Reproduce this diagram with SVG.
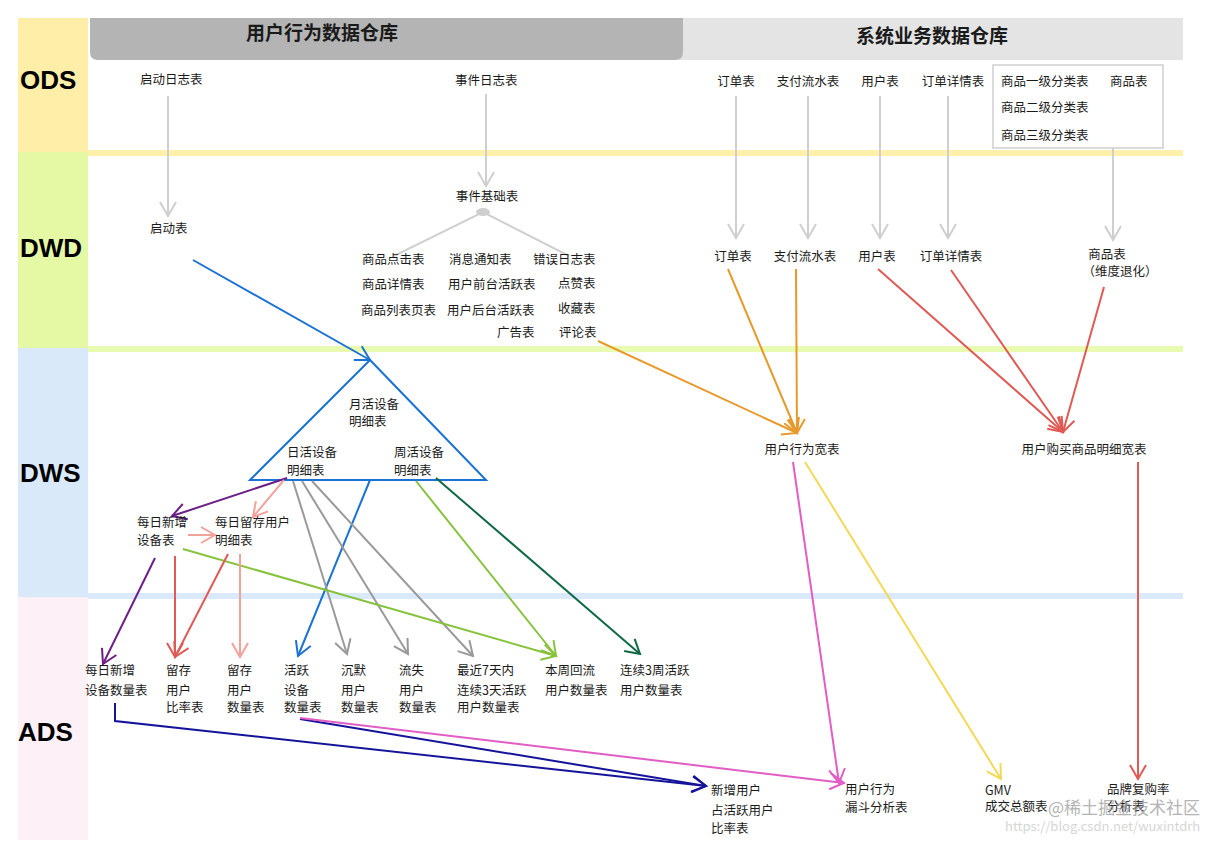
<svg xmlns="http://www.w3.org/2000/svg" width="1229" height="843" viewBox="0 0 1229 843">
<style>
.t{font-family:"Noto Sans CJK SC","Noto Sans",sans-serif;font-size:12.5px;fill:#1a1a1a}
.h{font-family:"Noto Sans CJK SC","Noto Sans",sans-serif;font-size:19px;font-weight:bold;fill:#1a1a1a}
.L{font-family:"Liberation Sans",Arial,sans-serif;font-size:26px;font-weight:bold;fill:#000}
.c{fill:none;stroke-width:2}
.gray{stroke:#cfcfcf}
.blue{stroke:#1a72d4}
.purple{stroke:#6c1f86}
.pink{stroke:#f2a19b}
.red{stroke:#e05a55}
.dgray{stroke:#9a9a9a}
.lgreen{stroke:#86c23c}
.dgreen{stroke:#0f6a43}
.navy{stroke:#15139a}
.mag{stroke:#e25dc4}
.yel{stroke:#f2d95a}
.orange{stroke:#e79a2c}
.wm{font-family:"Noto Sans CJK SC","Noto Sans",sans-serif;fill:#9a9a9a}
</style>
<defs>
<marker id="m-gray" markerUnits="userSpaceOnUse" markerWidth="18" markerHeight="18" viewBox="0 0 18 18" refX="16" refY="9" orient="auto"><path d="M2,1 L16,9 L2,17" fill="none" stroke="#cfcfcf" stroke-width="2"/></marker>
<marker id="m-blue" markerUnits="userSpaceOnUse" markerWidth="18" markerHeight="18" viewBox="0 0 18 18" refX="16" refY="9" orient="auto"><path d="M2,1 L16,9 L2,17" fill="none" stroke="#1a72d4" stroke-width="2"/></marker>
<marker id="m-purple" markerUnits="userSpaceOnUse" markerWidth="18" markerHeight="18" viewBox="0 0 18 18" refX="16" refY="9" orient="auto"><path d="M2,1 L16,9 L2,17" fill="none" stroke="#6c1f86" stroke-width="2"/></marker>
<marker id="m-pink" markerUnits="userSpaceOnUse" markerWidth="18" markerHeight="18" viewBox="0 0 18 18" refX="16" refY="9" orient="auto"><path d="M2,1 L16,9 L2,17" fill="none" stroke="#f2a19b" stroke-width="2"/></marker>
<marker id="m-red" markerUnits="userSpaceOnUse" markerWidth="18" markerHeight="18" viewBox="0 0 18 18" refX="16" refY="9" orient="auto"><path d="M2,1 L16,9 L2,17" fill="none" stroke="#e05a55" stroke-width="2"/></marker>
<marker id="m-dgray" markerUnits="userSpaceOnUse" markerWidth="18" markerHeight="18" viewBox="0 0 18 18" refX="16" refY="9" orient="auto"><path d="M2,1 L16,9 L2,17" fill="none" stroke="#9a9a9a" stroke-width="2"/></marker>
<marker id="m-lgreen" markerUnits="userSpaceOnUse" markerWidth="18" markerHeight="18" viewBox="0 0 18 18" refX="16" refY="9" orient="auto"><path d="M2,1 L16,9 L2,17" fill="none" stroke="#86c23c" stroke-width="2"/></marker>
<marker id="m-dgreen" markerUnits="userSpaceOnUse" markerWidth="18" markerHeight="18" viewBox="0 0 18 18" refX="16" refY="9" orient="auto"><path d="M2,1 L16,9 L2,17" fill="none" stroke="#0f6a43" stroke-width="2"/></marker>
<marker id="m-navy" markerUnits="userSpaceOnUse" markerWidth="18" markerHeight="18" viewBox="0 0 18 18" refX="16" refY="9" orient="auto"><path d="M2,1 L16,9 L2,17" fill="none" stroke="#15139a" stroke-width="2"/></marker>
<marker id="m-mag" markerUnits="userSpaceOnUse" markerWidth="18" markerHeight="18" viewBox="0 0 18 18" refX="16" refY="9" orient="auto"><path d="M2,1 L16,9 L2,17" fill="none" stroke="#e25dc4" stroke-width="2"/></marker>
<marker id="m-yel" markerUnits="userSpaceOnUse" markerWidth="18" markerHeight="18" viewBox="0 0 18 18" refX="16" refY="9" orient="auto"><path d="M2,1 L16,9 L2,17" fill="none" stroke="#f2d95a" stroke-width="2"/></marker>
<marker id="m-orange" markerUnits="userSpaceOnUse" markerWidth="18" markerHeight="18" viewBox="0 0 18 18" refX="16" refY="9" orient="auto"><path d="M2,1 L16,9 L2,17" fill="none" stroke="#e79a2c" stroke-width="2"/></marker>
</defs>
<rect width="1229" height="843" fill="#fff"/>

<g id="layers">
<rect x="18" y="18" width="70" height="134" fill="#ffeea8"/>
<rect x="18" y="152" width="70" height="196" fill="#e5f9a5"/>
<rect x="18" y="348" width="70" height="249" fill="#d9e9fa"/>
<rect x="18" y="597" width="70" height="243" fill="#fdf1f7"/>
<rect x="88" y="150" width="1095" height="6" fill="#fff0aa"/>
<rect x="88" y="346" width="1095" height="6" fill="#e8fbb0"/>
<rect x="88" y="593" width="1095" height="6" fill="#dbeafb"/>
<text class="L" x="20" y="89">ODS</text>
<text class="L" x="20" y="257">DWD</text>
<text class="L" x="20" y="482">DWS</text>
<text class="L" x="18" y="741">ADS</text>
</g>

<g id="header">
<rect x="676" y="18" width="507" height="42" fill="#e4e4e4"/>
<path d="M90,18 H683 V52 Q683,60 675,60 H98 Q90,60 90,52 Z" fill="#b4b4b4"/>
<text class="h" x="322" y="40" text-anchor="middle">用户行为数据仓库</text>
<text class="h" x="932" y="43" text-anchor="middle">系统业务数据仓库</text>
</g>

<g id="connectors">
<line class="c gray" x1="168" y1="96" x2="168" y2="216" marker-end="url(#m-gray)"/>
<line class="c gray" x1="486" y1="94" x2="486" y2="186" marker-end="url(#m-gray)"/>
<line class="c gray" x1="736" y1="96" x2="736" y2="238" marker-end="url(#m-gray)"/>
<line class="c gray" x1="808" y1="96" x2="808" y2="238" marker-end="url(#m-gray)"/>
<line class="c gray" x1="880" y1="96" x2="880" y2="238" marker-end="url(#m-gray)"/>
<line class="c gray" x1="948" y1="96" x2="948" y2="238" marker-end="url(#m-gray)"/>
<line class="c gray" x1="1113" y1="148" x2="1113" y2="240" marker-end="url(#m-gray)"/>
<ellipse cx="483" cy="212" rx="7" ry="4" fill="#cfcfcf"/>
<polyline class="c gray" points="394,256 483,212 569,256"/>
<line class="c blue" x1="193" y1="260" x2="370" y2="360" marker-end="url(#m-blue)"/>
<line class="c orange" x1="598" y1="341" x2="797" y2="433" marker-end="url(#m-orange)"/>
<line class="c orange" x1="728" y1="269" x2="797" y2="433" marker-end="url(#m-orange)"/>
<line class="c orange" x1="796" y1="269" x2="797" y2="433" marker-end="url(#m-orange)"/>
<line class="c red" x1="878" y1="269" x2="1063" y2="432" marker-end="url(#m-red)"/>
<line class="c red" x1="951" y1="270" x2="1063" y2="432" marker-end="url(#m-red)"/>
<line class="c red" x1="1104" y1="287" x2="1063" y2="432" marker-end="url(#m-red)"/>
<path d="M370,360 L250,480 L486,480 Z" fill="none" stroke="#1a72d4" stroke-width="2"/>
<line class="c purple" x1="287" y1="478" x2="172" y2="516" marker-end="url(#m-purple)"/>
<line class="c pink" x1="284" y1="480" x2="253" y2="517" marker-end="url(#m-pink)"/>
<line class="c pink" x1="188" y1="535" x2="215" y2="535" marker-end="url(#m-pink)"/>
<line class="c blue" x1="370" y1="480" x2="298" y2="656" marker-end="url(#m-blue)"/>
<line class="c dgray" x1="293" y1="481" x2="347" y2="654" marker-end="url(#m-dgray)"/>
<line class="c dgray" x1="302" y1="481" x2="408" y2="654" marker-end="url(#m-dgray)"/>
<line class="c dgray" x1="312" y1="481" x2="473" y2="656" marker-end="url(#m-dgray)"/>
<line class="c lgreen" x1="416" y1="481" x2="556" y2="656" marker-end="url(#m-lgreen)"/>
<line class="c lgreen" x1="183" y1="549" x2="556" y2="656" marker-end="url(#m-lgreen)"/>
<line class="c dgreen" x1="436" y1="478" x2="640" y2="654" marker-end="url(#m-dgreen)"/>
<line class="c purple" x1="155" y1="558" x2="103" y2="664" marker-end="url(#m-purple)"/>
<line class="c red" x1="175" y1="556" x2="175" y2="657" marker-end="url(#m-red)"/>
<line class="c red" x1="228" y1="554" x2="175" y2="657" marker-end="url(#m-red)"/>
<line class="c pink" x1="240" y1="554" x2="240" y2="657" marker-end="url(#m-pink)"/>
<line class="c mag" x1="793" y1="462" x2="839" y2="783" marker-end="url(#m-mag)"/>
<line class="c yel" x1="805" y1="462" x2="1001" y2="779" marker-end="url(#m-yel)"/>
<line class="c red" x1="1138" y1="462" x2="1138" y2="779" marker-end="url(#m-red)"/>
<polyline class="c navy" points="115,703 115,721 706,786" marker-end="url(#m-navy)"/>
<line class="c navy" x1="300" y1="719" x2="706" y2="786" marker-end="url(#m-navy)"/>
<line class="c mag" x1="300" y1="718" x2="844" y2="783" marker-end="url(#m-mag)"/>
</g>

<g id="ods-qidong"><text class="t" x="140" y="84">启动日志表</text></g>
<g id="ods-shijian"><text class="t" x="455" y="85">事件日志表</text></g>
<g id="ods-dingdan"><text class="t" x="736" y="86" text-anchor="middle">订单表</text></g>
<g id="ods-zhifu"><text class="t" x="808" y="86" text-anchor="middle">支付流水表</text></g>
<g id="ods-yonghu"><text class="t" x="880" y="86" text-anchor="middle">用户表</text></g>
<g id="ods-xiangqing"><text class="t" x="953" y="86" text-anchor="middle">订单详情表</text></g>
<g id="ods-shangpin">
<rect x="993" y="65" width="170" height="83" fill="none" stroke="#cfcfcf" stroke-width="1.5"/>
<text class="t" x="1001" y="86">商品一级分类表</text>
<text class="t" x="1110" y="86">商品表</text>
<text class="t" x="1001" y="112">商品二级分类表</text>
<text class="t" x="1001" y="140">商品三级分类表</text>
</g>

<g id="dwd-qidong"><text class="t" x="150" y="233">启动表</text></g>
<g id="dwd-shijian"><text class="t" x="487" y="201" text-anchor="middle">事件基础表</text></g>
<g id="dwd-sub">
<text class="t" x="362" y="264">商品点击表</text>
<text class="t" x="449" y="264">消息通知表</text>
<text class="t" x="533" y="264">错误日志表</text>
<text class="t" x="362" y="289">商品详情表</text>
<text class="t" x="448" y="289">用户前台活跃表</text>
<text class="t" x="558" y="288">点赞表</text>
<text class="t" x="361" y="315">商品列表页表</text>
<text class="t" x="447" y="315">用户后台活跃表</text>
<text class="t" x="558" y="313">收藏表</text>
<text class="t" x="497" y="337">广告表</text>
<text class="t" x="559" y="337">评论表</text>
</g>
<g id="dwd-dingdan"><text class="t" x="733" y="261" text-anchor="middle">订单表</text></g>
<g id="dwd-zhifu"><text class="t" x="805" y="261" text-anchor="middle">支付流水表</text></g>
<g id="dwd-yonghu"><text class="t" x="877" y="261" text-anchor="middle">用户表</text></g>
<g id="dwd-xiangqing"><text class="t" x="951" y="261" text-anchor="middle">订单详情表</text></g>
<g id="dwd-shangpin"><text class="t" x="1107" y="259" text-anchor="middle">商品表</text><text class="t" x="1120" y="276" text-anchor="middle">（维度退化）</text></g>

<g id="dws-yuehuo"><text class="t" x="349" y="409">月活设备</text><text class="t" x="349" y="426">明细表</text></g>
<g id="dws-rihuo"><text class="t" x="287" y="457">日活设备</text><text class="t" x="287" y="475">明细表</text></g>
<g id="dws-zhouhuo"><text class="t" x="394" y="457">周活设备</text><text class="t" x="394" y="475">明细表</text></g>
<g id="dws-xinzeng"><text class="t" x="137" y="527">每日新增</text><text class="t" x="137" y="545">设备表</text></g>
<g id="dws-liucun"><text class="t" x="215" y="527">每日留存用户</text><text class="t" x="215" y="545">明细表</text></g>
<g id="dws-xingwei"><text class="t" x="802" y="454" text-anchor="middle">用户行为宽表</text></g>
<g id="dws-goumai"><text class="t" x="1084" y="454" text-anchor="middle">用户购买商品明细宽表</text></g>

<g id="ads-xinzeng"><text class="t" x="85" y="675">每日新增</text><text class="t" x="85" y="695">设备数量表</text></g>
<g id="ads-liucunbilv"><text class="t" x="166" y="675">留存</text><text class="t" x="166" y="695">用户</text><text class="t" x="166" y="712">比率表</text></g>
<g id="ads-liucunshu"><text class="t" x="227" y="675">留存</text><text class="t" x="227" y="695">用户</text><text class="t" x="227" y="712">数量表</text></g>
<g id="ads-huoyue"><text class="t" x="284" y="675">活跃</text><text class="t" x="284" y="695">设备</text><text class="t" x="284" y="712">数量表</text></g>
<g id="ads-chenmo"><text class="t" x="341" y="675">沉默</text><text class="t" x="341" y="695">用户</text><text class="t" x="341" y="712">数量表</text></g>
<g id="ads-liushi"><text class="t" x="399" y="675">流失</text><text class="t" x="399" y="695">用户</text><text class="t" x="399" y="712">数量表</text></g>
<g id="ads-lianxu3tian"><text class="t" x="457" y="675">最近7天内</text><text class="t" x="457" y="695">连续3天活跃</text><text class="t" x="457" y="712">用户数量表</text></g>
<g id="ads-huiliu"><text class="t" x="545" y="675">本周回流</text><text class="t" x="545" y="695">用户数量表</text></g>
<g id="ads-lianxu3zhou"><text class="t" x="620" y="675">连续3周活跃</text><text class="t" x="620" y="695">用户数量表</text></g>
<g id="ads-zhanbi"><text class="t" x="711" y="795">新增用户</text><text class="t" x="711" y="815">占活跃用户</text><text class="t" x="711" y="833">比率表</text></g>
<g id="ads-loudou"><text class="t" x="845" y="794">用户行为</text><text class="t" x="845" y="812">漏斗分析表</text></g>
<g id="ads-gmv"><text class="t" x="985" y="795">GMV</text><text class="t" x="985" y="811">成交总额表</text></g>
<g id="ads-fugou"><text class="t" x="1107" y="794">品牌复购率</text><text class="t" x="1107" y="811">分析表</text></g>

<g id="watermark">
<text class="wm" x="1048" y="814" font-size="17" opacity="0.75">@稀土掘金技术社区</text>
<text class="wm" x="1005" y="831" font-size="13" opacity="0.4">https://blog.csdn.net/wuxintdrh</text>
</g>
</svg>
